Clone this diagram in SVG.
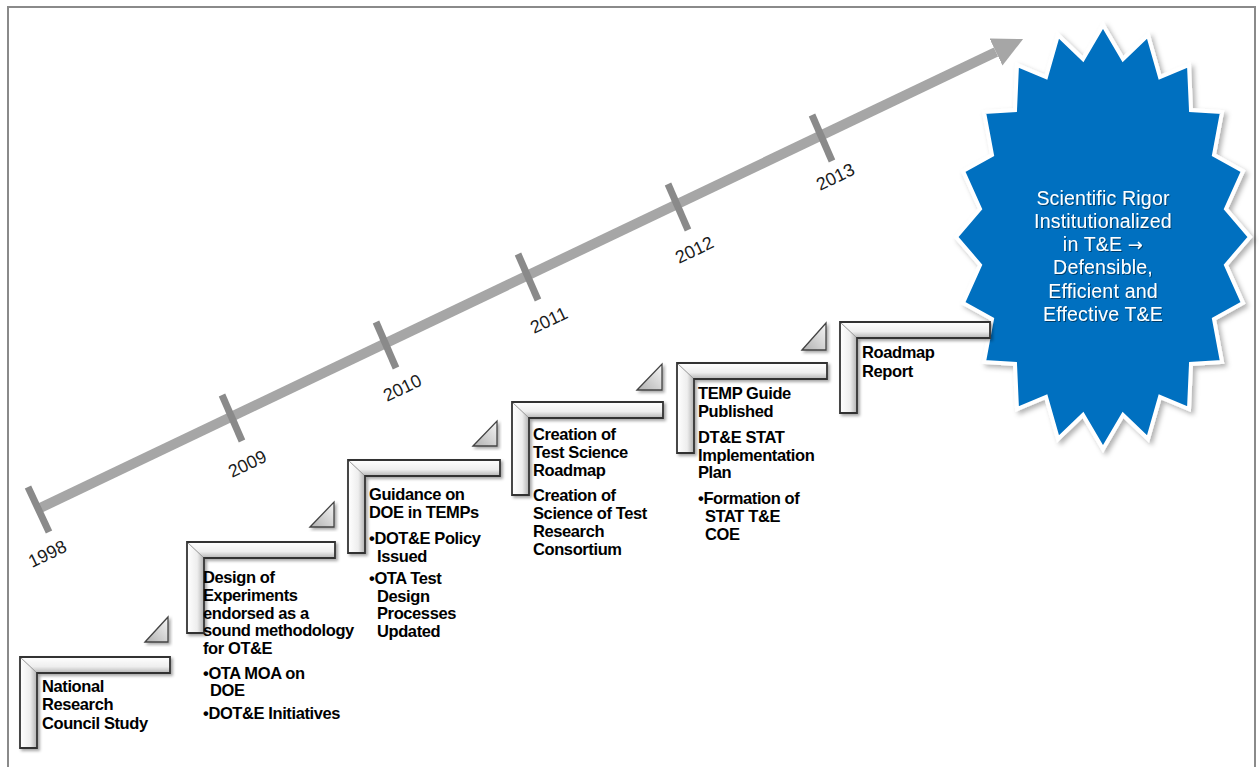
<svg xmlns="http://www.w3.org/2000/svg" width="1259" height="767" viewBox="0 0 1259 767">
<defs>
<linearGradient id="gh" x1="0" y1="0" x2="0" y2="1"><stop offset="0" stop-color="#ffffff"/><stop offset="0.6" stop-color="#eeeeee"/><stop offset="1" stop-color="#b5b5b5"/></linearGradient>
<linearGradient id="gv" x1="0" y1="0" x2="1" y2="0"><stop offset="0" stop-color="#ffffff"/><stop offset="0.6" stop-color="#eeeeee"/><stop offset="1" stop-color="#b0b0b0"/></linearGradient>
<linearGradient id="gt" x1="1" y1="0" x2="0" y2="1"><stop offset="0" stop-color="#f6f6f6"/><stop offset="1" stop-color="#b0b0b0"/></linearGradient>
<filter id="sh" x="-10%" y="-10%" width="130%" height="130%"><feDropShadow dx="2" dy="2" stdDeviation="1.5" flood-color="#000" flood-opacity="0.35"/></filter>
<filter id="ssh" x="-10%" y="-10%" width="130%" height="130%"><feDropShadow dx="3" dy="3" stdDeviation="2.5" flood-color="#000" flood-opacity="0.3"/></filter>
<filter id="tsh"><feDropShadow dx="1" dy="1" stdDeviation="0.6" flood-color="#000" flood-opacity="0.45"/></filter>
<marker id="ah" viewBox="0 0 10 10" refX="0" refY="5" markerWidth="3" markerHeight="3" orient="auto" markerUnits="strokeWidth"><path d="M0,0 L10,5 L0,10 z" fill="#a6a6a6"/></marker>
</defs>
<style>
.hb{fill:url(#gh)}
.vb{fill:url(#gv)}
.ol{fill:none;stroke:#333333;stroke-width:1.8;stroke-linejoin:miter}
.bev{stroke:#9a9a9a;stroke-width:1}
.tri{fill:url(#gt);stroke:#444444;stroke-width:1.3}
.t{font-family:"Liberation Sans",Arial,sans-serif;font-weight:bold;font-size:16.5px;fill:#000;letter-spacing:-0.4px}
.yr{font-family:"Liberation Sans",Arial,sans-serif;font-size:18px;fill:#1a1a1a}
.st{font-family:"Liberation Sans",Arial,sans-serif;font-size:19.5px;fill:#ffffff;text-anchor:middle;letter-spacing:0.2px}
.frame{stroke:#8a8a8a;stroke-width:2;fill:none}
.tick{stroke:#8a8a8a;stroke-width:7}
</style>
<rect width="1259" height="767" fill="#ffffff"/>
<path class="frame" d="M8,767 L8,7 L1255,7 L1255,767"/>

<g id="connectors">
<line x1="38" y1="509" x2="996" y2="52" stroke="#a6a6a6" stroke-width="10" marker-end="url(#ah)"/>
<line class="tick" x1="28" y1="487" x2="49" y2="532"/>
<line class="tick" x1="222" y1="395" x2="242" y2="441"/>
<line class="tick" x1="376" y1="322" x2="396" y2="368"/>
<line class="tick" x1="518" y1="254" x2="538" y2="300"/>
<line class="tick" x1="668" y1="184" x2="688" y2="230"/>
<line class="tick" x1="812" y1="115" x2="832" y2="161"/>
</g>

<g id="years">
<text class="yr" transform="translate(32,568) rotate(-25.5)">1998</text>
<text class="yr" transform="translate(232,478) rotate(-25.5)">2009</text>
<text class="yr" transform="translate(387,402) rotate(-25.5)">2010</text>
<text class="yr" transform="translate(534,334) rotate(-25.5)">2011</text>
<text class="yr" transform="translate(679,264) rotate(-25.5)">2012</text>
<text class="yr" transform="translate(820,191) rotate(-25.5)">2013</text>
</g>

<g id="goal">
<polygon filter="url(#ssh)" fill="#0070C0" stroke="#ffffff" stroke-width="4" stroke-linejoin="miter" points="1103,25 1123,59 1148,35 1160,77 1189,65 1191,110 1222,112 1214,155 1243,171 1226,209 1250,237 1226,265 1243,303 1214,319 1222,362 1191,364 1189,409 1160,397 1148,439 1123,415 1103,449 1083,415 1058,439 1046,397 1017,409 1015,364 984,362 992,319 963,303 980,265 956,237 980,209 963,171 992,155 984,112 1015,110 1017,65 1046,77 1058,35 1083,59"/>
<g filter="url(#tsh)">
<text class="st" x="1103" y="205">Scientific Rigor</text>
<text class="st" x="1103" y="228">Institutionalized</text>
<text class="st" x="1103" y="251">in T&amp;E <tspan font-family="DejaVu Sans, sans-serif" font-size="18px">→</tspan></text>
<text class="st" x="1103" y="274">Defensible,</text>
<text class="st" x="1103" y="298">Efficient and</text>
<text class="st" x="1103" y="321">Effective T&amp;E</text>
</g>
</g>

<g id="step1">
<g filter="url(#sh)">
<polygon class="hb" points="20,657 170,657 170,673 37,673"/>
<polygon class="vb" points="20,657 37,673 37,748 20,748"/>
<line class="bev" x1="20" y1="657" x2="37" y2="673"/>
<polygon class="ol" points="20,657 170,657 170,673 37,673 37,748 20,748"/>
</g>
<polygon class="tri" filter="url(#sh)" points="145,642 168,617 168,642"/>
<text class="t" x="42" y="692">National</text>
<text class="t" x="42" y="710">Research</text>
<text class="t" x="42" y="729">Council Study</text>
</g>

<g id="step2">
<g filter="url(#sh)">
<polygon class="hb" points="187,542 335,542 335,558 204,558"/>
<polygon class="vb" points="187,542 204,558 204,633 187,633"/>
<line class="bev" x1="187" y1="542" x2="204" y2="558"/>
<polygon class="ol" points="187,542 335,542 335,558 204,558 204,633 187,633"/>
</g>
<polygon class="tri" filter="url(#sh)" points="310,527 334,502 334,527"/>
<text class="t" x="203" y="583">Design of</text>
<text class="t" x="203" y="601">Experiments</text>
<text class="t" x="203" y="619">endorsed as a</text>
<text class="t" x="203" y="636">sound methodology</text>
<text class="t" x="203" y="654">for OT&amp;E</text>
<text class="t" x="203" y="679">•OTA MOA on</text>
<text class="t" x="210" y="696">DOE</text>
<text class="t" x="203" y="719">•DOT&amp;E Initiatives</text>
</g>

<g id="step3">
<g filter="url(#sh)">
<polygon class="hb" points="348,460 500,460 500,476 365,476"/>
<polygon class="vb" points="348,460 365,476 365,553 348,553"/>
<line class="bev" x1="348" y1="460" x2="365" y2="476"/>
<polygon class="ol" points="348,460 500,460 500,476 365,476 365,553 348,553"/>
</g>
<polygon class="tri" filter="url(#sh)" points="473,446 497,421 497,446"/>
<text class="t" x="369" y="500">Guidance on</text>
<text class="t" x="369" y="518">DOE in TEMPs</text>
<text class="t" x="369" y="544">•DOT&amp;E Policy</text>
<text class="t" x="377" y="562">Issued</text>
<text class="t" x="369" y="584">•OTA Test</text>
<text class="t" x="377" y="602">Design</text>
<text class="t" x="377" y="619">Processes</text>
<text class="t" x="377" y="637">Updated</text>
</g>

<g id="step4">
<g filter="url(#sh)">
<polygon class="hb" points="512,402 663,402 663,418 529,418"/>
<polygon class="vb" points="512,402 529,418 529,495 512,495"/>
<line class="bev" x1="512" y1="402" x2="529" y2="418"/>
<polygon class="ol" points="512,402 663,402 663,418 529,418 529,495 512,495"/>
</g>
<polygon class="tri" filter="url(#sh)" points="637,390 662,364 662,390"/>
<text class="t" x="533" y="440">Creation of</text>
<text class="t" x="533" y="458">Test Science</text>
<text class="t" x="533" y="476">Roadmap</text>
<text class="t" x="533" y="501">Creation of</text>
<text class="t" x="533" y="519">Science of Test</text>
<text class="t" x="533" y="537">Research</text>
<text class="t" x="533" y="555">Consortium</text>
</g>

<g id="step5">
<g filter="url(#sh)">
<polygon class="hb" points="677,363 827,363 827,379 694,379"/>
<polygon class="vb" points="677,363 694,379 694,453 677,453"/>
<line class="bev" x1="677" y1="363" x2="694" y2="379"/>
<polygon class="ol" points="677,363 827,363 827,379 694,379 694,453 677,453"/>
</g>
<polygon class="tri" filter="url(#sh)" points="802,350 826,323 826,350"/>
<text class="t" x="698" y="399">TEMP Guide</text>
<text class="t" x="698" y="417">Published</text>
<text class="t" x="698" y="443">DT&amp;E STAT</text>
<text class="t" x="698" y="461">Implementation</text>
<text class="t" x="698" y="478">Plan</text>
<text class="t" x="698" y="504">•Formation of</text>
<text class="t" x="705" y="522">STAT T&amp;E</text>
<text class="t" x="705" y="540">COE</text>
</g>

<g id="step6">
<g filter="url(#sh)">
<polygon class="hb" points="840,322 990,322 990,338 857,338"/>
<polygon class="vb" points="840,322 857,338 857,413 840,413"/>
<line class="bev" x1="840" y1="322" x2="857" y2="338"/>
<polygon class="ol" points="840,322 990,322 990,338 857,338 857,413 840,413"/>
</g>
<text class="t" x="862" y="358">Roadmap</text>
<text class="t" x="862" y="377">Report</text>
</g>
</svg>
